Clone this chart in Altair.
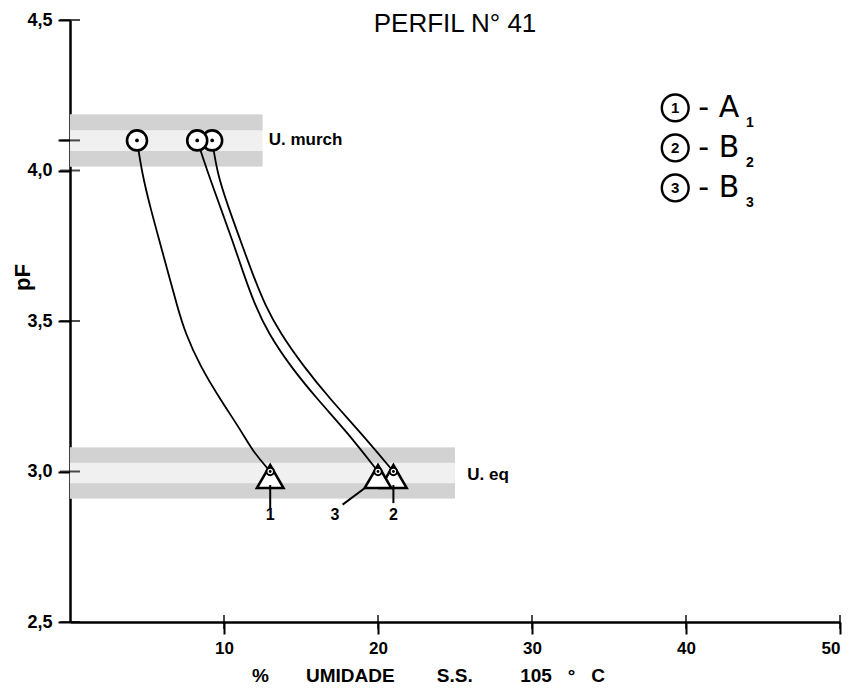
import altair as alt
import pandas as pd

# ---------------- data ----------------
title_text = ["PERFIL N° 41"]

# reference bands (U. murch = wilting point, U. eq = field equivalent)
band_label = ["U. murch", "U. eq"]
band_x0 = [0.0, 0.0]
band_x1 = [12.5, 25.0]
band_y0 = [4.013, 2.91]
band_y1 = [4.186, 3.08]
band_text_x = [12.9, 25.8]
band_text_y = [4.10, 2.99]

# curves (humidity %, pF) for each sample
curve1_x = [4.35, 4.68, 5.20, 5.79, 6.37, 6.96, 7.48, 8.45, 9.75, 11.18, 11.83, 13.0]
curve1_y = [4.10, 3.99, 3.88, 3.77, 3.66, 3.55, 3.46, 3.35, 3.24, 3.13, 3.07, 3.00]
curve2_x = [9.23, 9.56, 10.27, 11.05, 11.83, 12.68, 13.65, 15.15, 16.90, 18.86, 21.0]
curve2_y = [4.10, 3.99, 3.88, 3.77, 3.66, 3.55, 3.46, 3.35, 3.24, 3.13, 3.00]
curve3_x = [8.26, 8.97, 9.75, 10.53, 11.25, 12.03, 12.87, 14.30, 16.06, 18.01, 20.0]
curve3_y = [4.10, 3.99, 3.88, 3.77, 3.66, 3.55, 3.46, 3.35, 3.24, 3.13, 3.00]

# end points
samples = ["1", "2", "3"]
murch_x = [4.35, 9.23, 8.26]
murch_y = [4.10, 4.10, 4.10]
eq_x = [13.0, 21.0, 20.0]
eq_y = [3.00, 3.00, 3.00]

# pointer labels under the triangles
ptr_label = ["1", "3", "2"]
ptr_text_x = [13.0, 17.2, 21.0]
ptr_text_y = [2.855, 2.855, 2.855]
ptr_x = [13.0, 17.7, 21.0]
ptr_y = [2.875, 2.89, 2.895]
ptr_x2 = [13.0, 19.15, 21.0]
ptr_y2 = [2.955, 2.945, 2.955]

# legend
legend_num = ["1", "2", "3"]
legend_text = ["- A", "- B", "- B"]
legend_sub = ["1", "2", "3"]
legend_x = [39.3, 39.3, 39.3]
legend_text_x = [40.8, 40.8, 40.8]
legend_sub_x = [43.9, 43.9, 43.9]
legend_y = [4.208, 4.075, 3.942]

y_ticks = [2.5, 3.0, 3.5, 4.0, 4.1, 4.5]
x_ticks = [10, 20, 30, 40, 50]

# ---------------- tables ----------------
bands = pd.DataFrame({"label": band_label, "x0": band_x0, "x1": band_x1,
                      "y0": band_y0, "y1": band_y1,
                      "tx": band_text_x, "ty": band_text_y})
strip_rows = []
for r in bands.itertuples():
    h = r.y1 - r.y0
    strip_rows.append({"x0": r.x0, "x1": r.x1, "y0": r.y1 - 0.3 * h, "y1": r.y1})
    strip_rows.append({"x0": r.x0, "x1": r.x1, "y0": r.y0, "y1": r.y0 + 0.3 * h})
strips = pd.DataFrame(strip_rows)

curve_rows = []
for s, cx, cy in [("1", curve1_x, curve1_y), ("2", curve2_x, curve2_y), ("3", curve3_x, curve3_y)]:
    for i, (a, b) in enumerate(zip(cx, cy)):
        curve_rows.append({"sample": s, "x": a, "y": b, "i": i})
curves = pd.DataFrame(curve_rows)

murch = pd.DataFrame({"sample": samples, "x": murch_x, "y": murch_y})
eq = pd.DataFrame({"sample": samples, "x": eq_x, "y": eq_y})
ptr = pd.DataFrame({"label": ptr_label, "tx": ptr_text_x, "ty": ptr_text_y,
                    "x": ptr_x, "y": ptr_y, "x2": ptr_x2, "y2": ptr_y2})
legend = pd.DataFrame({"num": legend_num, "text": legend_text, "sub": legend_sub,
                       "x": legend_x, "tx": legend_text_x, "sx": legend_sub_x, "y": legend_y})
yt = pd.DataFrame({"v": y_ticks})
xt = pd.DataFrame({"v": x_ticks})
title_df = pd.DataFrame({"t": title_text})

# ---------------- scales / axes ----------------
xs = alt.Scale(domain=[0, 50], nice=False, zero=False)
ys = alt.Scale(domain=[2.5, 4.5], nice=False, zero=False)

nb = "\u00a0"
x_title = "%" + nb * 7 + "UMIDADE" + nb * 8 + "S.S." + nb * 9 + "105" + nb * 3 + "°" + nb * 3 + "C"
x_axis = alt.Axis(values=x_ticks, title=x_title,
                  titleX=358, titleY=59, titleAlign="center", titleBaseline="alphabetic",
                  titleFontSize=19, titleFontWeight="bold", titleFont="Liberation Sans",
                  labelFontSize=17, labelPadding=6, labelBaseline="top")
y_axis = alt.Axis(values=y_ticks, title="pF",
                  labelExpr="datum.value == 4.1 ? '' : replace(format(datum.value, '.1f'), '.', ',')",
                  titleX=-48, titleY=257, titleAngle=-90, titleAlign="center",
                  titleBaseline="middle", titleFontSize=22, titleFontWeight="bold",
                  titleFont="Liberation Sans", labelFontSize=18, labelPadding=6)

X = lambda f: alt.X(f, type="quantitative", scale=xs, axis=x_axis)
Y = lambda f: alt.Y(f, type="quantitative", scale=ys, axis=y_axis)

band_base = alt.Chart(bands).mark_rect(fill="#f0f0f0").encode(
    x=X("x0"), x2="x1", y=Y("y0"), y2="y1")
band_strip = alt.Chart(strips).mark_rect(fill="#d2d2d2").encode(
    x=X("x0"), x2="x1", y=Y("y0"), y2="y1")
band_text = alt.Chart(bands).mark_text(align="left", baseline="middle", fontSize=17,
                                       font="Liberation Sans", fontWeight="bold").encode(
    x=X("tx"), y=Y("ty"), text="label")

# inward halves of the crossing ticks
y_inner = alt.Chart(yt).mark_tick(orient="horizontal", size=20, thickness=2, color="black").encode(
    y=Y("v"), x=alt.value(0))
x_inner = alt.Chart(xt).mark_tick(orient="vertical", size=14, thickness=2, color="black").encode(
    x=X("v"), y=alt.value(602))

lines = alt.Chart(curves).mark_line(color="black", strokeWidth=1.8, interpolate="basis").encode(
    x=X("x"), y=Y("y"), detail="sample", order="i")

murch_pts = alt.Chart(murch).mark_point(shape="circle", size=400, fill="white", stroke="black",
                                        strokeWidth=2.6, opacity=1, fillOpacity=1).encode(
    x=X("x"), y=Y("y"))
murch_dot = alt.Chart(murch).mark_point(shape="circle", size=14, filled=True, color="black",
                                        opacity=1).encode(x=X("x"), y=Y("y"))

tri = alt.Chart(eq).mark_point(shape="triangle-up", size=700, fill="white", stroke="black",
                               strokeWidth=2.6, opacity=1, fillOpacity=1, yOffset=5).encode(
    x=X("x"), y=Y("y"))
apex = alt.Chart(eq).mark_point(shape="circle", size=55, fill="white", stroke="black",
                                strokeWidth=2, opacity=1, fillOpacity=1).encode(x=X("x"), y=Y("y"))
apex_dot = alt.Chart(eq).mark_point(shape="circle", size=8, filled=True, color="black",
                                    opacity=1).encode(x=X("x"), y=Y("y"))

ptr_rules = alt.Chart(ptr).mark_rule(color="black", strokeWidth=2).encode(
    x=X("x"), y=Y("y"), x2="x2", y2="y2")
ptr_text = alt.Chart(ptr).mark_text(fontSize=16, fontWeight="bold", font="Liberation Sans",
                                    baseline="middle").encode(x=X("tx"), y=Y("ty"), text="label")

leg_circ = alt.Chart(legend).mark_point(shape="circle", size=720, fill="white", stroke="black",
                                        strokeWidth=2.4, opacity=1, fillOpacity=1).encode(
    x=X("x"), y=Y("y"))
leg_num = alt.Chart(legend).mark_text(fontSize=15, fontWeight="bold", font="Liberation Sans",
                                      baseline="middle").encode(x=X("x"), y=Y("y"), text="num")
leg_text = alt.Chart(legend).mark_text(fontSize=30, font="DejaVu Sans", align="left",
                                       baseline="middle").encode(x=X("tx"), y=Y("y"), text="text")
leg_sub = alt.Chart(legend).mark_text(fontSize=14, font="Liberation Sans", fontWeight="bold",
                                      align="left", baseline="middle", dy=15).encode(
    x=X("sx"), y=Y("y"), text="sub")

title = alt.Chart(title_df).mark_text(fontSize=26, font="Liberation Sans", align="center",
                                      baseline="alphabetic").encode(
    x=alt.value(385), y=alt.value(12), text="t")

chart = alt.layer(
    band_base, band_strip, band_text, lines, murch_pts, murch_dot, tri, apex, apex_dot,
    ptr_rules, ptr_text, leg_circ, leg_num, leg_text, leg_sub, y_inner, x_inner, title
).properties(
    width=770, height=602,
    autosize=alt.AutoSizeParams(type="none"),
    padding={"left": 62, "top": 12, "right": 10, "bottom": 64},
).configure_view(stroke=None).configure_axis(
    grid=False, domainColor="black", domainWidth=2.5, tickColor="black", tickWidth=2,
    tickSize=12, labelColor="black", titleColor="black", labelFont="Liberation Sans",
    labelFontWeight="bold"
)

chart.save("out.html", embed_options={"renderer": "svg", "actions": False})
